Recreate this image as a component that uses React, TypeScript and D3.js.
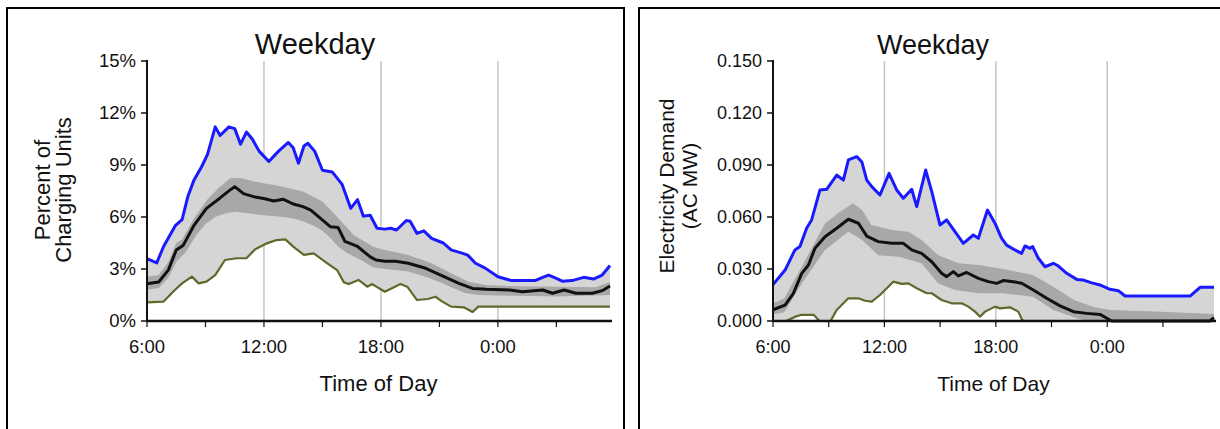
import React from 'react';
import * as d3 from 'd3';

type Pt = [number, number];

// ---------- shared axis definitions ----------
const xMajorHours = [6, 12, 18, 24];
const xMajorLabels = ['6:00', '12:00', '18:00', '0:00'];
const xMinorHours = [6, 9, 12, 15, 18, 21, 24, 27];
const gridHours = [12, 18, 24];

const pctTicks = [0, 3, 6, 9, 12, 15];
const mwTicks = [0, 0.03, 0.06, 0.09, 0.12, 0.15];

// ---------- left chart: percent of charging units ----------
const pctMax: Pt[] = [
  [6.0, 3.6], [6.5, 3.35], [6.85, 4.3], [7.45, 5.5], [7.8, 5.85], [8.1, 7.2], [8.4, 8.1], [8.8, 8.9],
  [9.1, 9.6], [9.5, 11.2], [9.75, 10.7], [10.2, 11.2], [10.5, 11.1], [10.8, 10.2], [11.1, 10.9],
  [11.4, 10.5], [11.75, 9.8], [12.25, 9.2], [12.75, 9.8], [13.25, 10.3], [13.5, 10.0], [13.77, 9.1],
  [14.05, 10.1], [14.25, 10.25], [14.6, 9.8], [15.0, 8.7], [15.5, 8.6], [16.0, 7.9], [16.45, 6.5],
  [16.8, 7.0], [17.1, 6.05], [17.45, 6.1], [17.8, 5.35], [18.2, 5.3], [18.5, 5.35], [18.8, 5.25],
  [19.3, 5.8], [19.5, 5.75], [19.85, 5.05], [20.2, 5.2], [20.6, 4.77], [21.2, 4.5], [21.6, 4.1],
  [22.2, 3.9], [22.45, 3.8], [22.85, 3.33], [23.35, 3.05], [24.0, 2.55], [24.7, 2.33], [25.9, 2.33],
  [26.3, 2.52], [26.6, 2.65], [27.0, 2.46], [27.3, 2.3], [27.8, 2.33], [28.4, 2.52], [28.9, 2.42],
  [29.35, 2.65], [29.75, 3.2],
];
const pctMean: Pt[] = [
  [6.0, 2.15], [6.6, 2.25], [7.1, 2.95], [7.5, 4.1], [7.85, 4.35], [8.4, 5.5], [9.05, 6.5], [9.75, 7.1],
  [10.25, 7.55], [10.5, 7.75], [10.95, 7.35], [11.55, 7.15], [12.05, 7.05], [12.5, 6.92], [13.0, 7.02],
  [13.5, 6.75], [14.0, 6.6], [14.4, 6.4], [14.9, 5.92], [15.4, 5.44], [15.8, 5.4], [16.15, 4.6],
  [16.8, 4.3], [17.45, 3.7], [17.75, 3.52], [18.2, 3.45], [18.75, 3.45], [19.4, 3.33], [20.3, 3.04],
  [21.15, 2.6], [22.0, 2.17], [22.7, 1.88], [23.4, 1.83], [24.6, 1.79], [25.25, 1.69], [26.3, 1.79],
  [26.8, 1.6], [27.4, 1.79], [28.0, 1.6], [28.85, 1.6], [29.35, 1.75], [29.75, 2.02],
];
const pctMin: Pt[] = [
  [6.0, 1.08], [6.85, 1.12], [7.35, 1.7], [7.8, 2.17], [8.3, 2.56], [8.65, 2.17], [9.05, 2.27],
  [9.5, 2.65], [10.0, 3.52], [10.6, 3.62], [11.1, 3.62], [11.55, 4.14], [12.15, 4.48], [12.65, 4.67],
  [13.1, 4.71], [13.5, 4.29], [14.05, 3.81], [14.55, 3.9], [15.25, 3.33], [15.75, 2.94], [16.1, 2.23],
  [16.35, 2.13], [16.85, 2.37], [17.3, 1.98], [17.55, 2.13], [18.2, 1.69], [19.0, 2.13], [19.35, 1.98],
  [19.85, 1.21], [20.4, 1.27], [20.8, 1.4], [21.15, 1.12], [21.6, 0.83], [22.25, 0.79], [22.7, 0.52],
  [23.0, 0.83], [29.75, 0.83],
];
const pctBandHigh: Pt[] = [
  [6.0, 2.55], [6.6, 2.65], [7.1, 3.4], [7.5, 4.5], [7.8, 4.7], [8.4, 5.9], [9.07, 6.98], [9.7, 7.7],
  [10.27, 8.24], [10.8, 8.25], [11.55, 8.04], [12.8, 7.79], [14.03, 7.46], [15.0, 6.89], [15.9, 5.83],
  [16.6, 4.96], [17.6, 4.29], [18.2, 4.1], [19.4, 3.81], [20.6, 3.33], [21.6, 2.75], [22.5, 2.27],
  [23.4, 2.08], [25.0, 2.0], [27.0, 1.98], [29.0, 1.95], [29.75, 2.25],
];
const pctBandLow: Pt[] = [
  [6.0, 1.8], [6.6, 1.9], [7.1, 2.5], [7.5, 3.4], [8.0, 4.0], [8.5, 4.9], [9.0, 5.6], [9.5, 6.0],
  [10.0, 6.2], [10.5, 6.3], [11.0, 6.25], [12.0, 6.1], [13.0, 6.0], [13.5, 5.92], [14.0, 5.75],
  [14.55, 5.5], [15.0, 5.2], [15.4, 4.8], [15.8, 4.3], [16.3, 3.9], [17.0, 3.5], [17.6, 3.1],
  [18.2, 3.0], [19.4, 2.85], [20.3, 2.55], [21.1, 2.2], [21.7, 1.9], [22.3, 1.62], [23.0, 1.5],
  [25.0, 1.45], [27.0, 1.42], [29.75, 1.5],
];

// ---------- right chart: electricity demand (AC MW) ----------
const mwMax: Pt[] = [
  [6.0, 0.021], [6.65, 0.0294], [7.18, 0.041], [7.45, 0.043], [7.81, 0.0535], [8.08, 0.0583],
  [8.53, 0.0756], [8.89, 0.076], [9.43, 0.0842], [9.79, 0.0813], [10.06, 0.0929], [10.51, 0.0948],
  [10.78, 0.0919], [11.05, 0.0813], [11.32, 0.0775], [11.76, 0.0727], [12.25, 0.0852], [12.66, 0.0756],
  [13.02, 0.0708], [13.47, 0.076], [13.74, 0.066], [14.22, 0.0871], [14.55, 0.0746], [14.99, 0.0554],
  [15.35, 0.0583], [15.8, 0.0515], [16.25, 0.0448], [16.79, 0.0496], [17.06, 0.0477], [17.55, 0.064],
  [17.96, 0.0563], [18.3, 0.048], [18.58, 0.0438], [19.03, 0.041], [19.39, 0.039], [19.57, 0.0433],
  [19.84, 0.0419], [19.98, 0.043], [20.29, 0.0362], [20.65, 0.0313], [21.1, 0.0333], [21.37, 0.0317],
  [21.82, 0.0275], [22.36, 0.024], [22.72, 0.0236], [23.17, 0.022], [23.61, 0.0208], [24.15, 0.0183],
  [24.6, 0.0175], [24.96, 0.0144], [28.46, 0.0144], [29.0, 0.0194], [29.75, 0.0194],
];
const mwMean: Pt[] = [
  [6.0, 0.0065], [6.65, 0.0092], [7.1, 0.016], [7.55, 0.0275], [7.91, 0.0323], [8.26, 0.042],
  [8.8, 0.0486], [9.43, 0.0535], [10.06, 0.0587], [10.6, 0.0564], [11.05, 0.049], [11.67, 0.0458],
  [12.39, 0.0448], [13.02, 0.0448], [13.47, 0.041], [14.0, 0.039], [14.55, 0.0342], [15.08, 0.0275],
  [15.35, 0.0256], [15.71, 0.0285], [15.98, 0.026], [16.43, 0.028], [17.06, 0.0246], [17.6, 0.0227],
  [18.05, 0.0217], [18.4, 0.0233], [18.94, 0.0227], [19.39, 0.0218], [20.02, 0.0179], [20.74, 0.0131],
  [21.46, 0.0087], [22.18, 0.0054], [22.9, 0.0044], [23.61, 0.0038], [24.24, 0.0], [29.53, 0.0],
  [29.75, 0.002],
];
const mwMin: Pt[] = [
  [6.0, 0], [6.7, 0], [7.2, 0.0025], [7.5, 0.0035], [8.2, 0.0035], [8.5, 0], [9.1, 0], [9.43, 0.0063],
  [10.06, 0.0131], [10.6, 0.0131], [10.96, 0.0117], [11.32, 0.0112], [11.76, 0.015], [12.21, 0.0198],
  [12.48, 0.0227], [12.93, 0.0214], [13.29, 0.0217], [13.74, 0.0189], [14.28, 0.016], [14.55, 0.016],
  [15.08, 0.0121], [15.62, 0.0102], [16.16, 0.0102], [16.52, 0.0083], [16.88, 0.0054], [17.15, 0.0025],
  [17.42, 0.0054], [17.96, 0.0083], [18.22, 0.0073], [18.76, 0.0079], [19.21, 0.0054], [19.4, 0.001],
  [19.5, 0], [29.75, 0],
];
const mwBandHigh: Pt[] = [
  [6.0, 0.0102], [6.6, 0.013], [7.55, 0.0313], [8.8, 0.0563], [9.5, 0.0621], [10.3, 0.0679],
  [10.8, 0.064], [11.3, 0.0554], [12.4, 0.0525], [13.3, 0.0515], [14.0, 0.0467], [14.9, 0.038],
  [16.0, 0.0333], [17.06, 0.0323], [18.4, 0.0300], [20.0, 0.0265], [21.1, 0.0198], [22.2, 0.0121],
  [23.3, 0.0079], [24.2, 0.0064], [26.9, 0.0054], [29.75, 0.004],
];
const mwBandLow: Pt[] = [
  [6.0, 0.0037], [6.6, 0.005], [7.55, 0.0217], [8.8, 0.041], [10.06, 0.0515], [10.8, 0.0467],
  [11.67, 0.038], [12.8, 0.0371], [14.0, 0.0333], [14.9, 0.0217], [15.8, 0.0179], [17.06, 0.016],
  [18.4, 0.016], [20.0, 0.014], [21.1, 0.0064], [22.2, 0.0021], [22.9, 0], [29.75, 0],
];

type PanelCfg = {
  boxX: number;
  boxRight: number;
  left: number;
  right: number;
  top: number;
  bottom: number;
  yMax: number;
  yTicks: number[];
  fmt: (v: number) => string;
  titleX: number;
  titleSize: number;
  labelSize: number;
  tickSize: number;
  yLabelLines: string[];
  yLabelX: number[];
  yLabelY: number;
  max: Pt[];
  mean: Pt[];
  min: Pt[];
  bandHigh: Pt[];
  bandLow: Pt[];
};

const FONT = 'Arial, "Liberation Sans", Helvetica, sans-serif';

function Panel({ c }: { c: PanelCfg }) {
  const x = d3.scaleLinear().domain([6, 29.75]).range([c.left, c.right]);
  const y = d3.scaleLinear().domain([0, c.yMax]).range([c.bottom, c.top]);
  const line = d3
    .line<Pt>()
    .x((d) => x(d[0]))
    .y((d) => y(d[1]));
  const poly = (hi: Pt[], lo: Pt[]) => line([...hi, ...lo.slice().reverse()]) + 'Z';

  return (
    <g fontFamily={FONT}>
      <rect
        x={c.boxX}
        y={8}
        width={c.boxRight - c.boxX}
        height={440}
        fill="#ffffff"
        stroke="#000"
        strokeWidth={2}
      />
      <text x={c.titleX} y={54} textAnchor="middle" fontSize={c.titleSize} fill="#111">
        Weekday
      </text>
      {gridHours.map((h) => (
        <line key={h} x1={x(h)} x2={x(h)} y1={c.top} y2={c.bottom} stroke="#c4c4c4" strokeWidth={1.5} />
      ))}
      <path d={poly(c.max, c.min)} fill="#d5d5d5" />
      <path d={poly(c.bandHigh, c.bandLow)} fill="#a8a8a8" />
      <path d={line(c.min) || ''} fill="none" stroke="#5a6b2c" strokeWidth={2.2} strokeLinejoin="round" />
      <path d={line(c.max) || ''} fill="none" stroke="#1a1aff" strokeWidth={3} strokeLinejoin="round" />
      <path d={line(c.mean) || ''} fill="none" stroke="#111" strokeWidth={3} strokeLinejoin="round" />

      {/* y axis */}
      <line x1={c.left} x2={c.left} y1={c.top - 1} y2={c.bottom + 1} stroke="#111" strokeWidth={2} />
      {c.yTicks.map((t) => (
        <g key={t}>
          <line x1={c.left - 6} x2={c.left} y1={y(t)} y2={y(t)} stroke="#111" strokeWidth={1.5} />
          <text
            x={c.left - 11}
            y={y(t)}
            dy="0.35em"
            textAnchor="end"
            fontSize={c.tickSize}
            fill="#111"
          >
            {c.fmt(t)}
          </text>
        </g>
      ))}
      {/* x axis */}
      <line x1={c.left} x2={c.right + 2} y1={c.bottom} y2={c.bottom} stroke="#111" strokeWidth={2.6} />
      {xMinorHours.map((h) => (
        <line key={h} x1={x(h)} x2={x(h)} y1={c.bottom} y2={c.bottom + 6} stroke="#111" strokeWidth={1.2} />
      ))}
      {xMajorHours.map((h, i) => (
        <text key={h} x={x(h)} y={353} textAnchor="middle" fontSize={c.tickSize} fill="#111">
          {xMajorLabels[i]}
        </text>
      ))}
      <text x={(c.left + c.right) / 2} y={391} textAnchor="middle" fontSize={c.labelSize} fill="#111">
        Time of Day
      </text>
      {c.yLabelLines.map((s, i) => (
        <text
          key={s}
          transform={`translate(${c.yLabelX[i]},${c.yLabelY}) rotate(-90)`}
          textAnchor="middle"
          dominantBaseline="central"
          fontSize={c.labelSize}
          fill="#111"
        >
          {s}
        </text>
      ))}
    </g>
  );
}

const leftCfg: PanelCfg = {
  boxX: 7,
  boxRight: 624,
  left: 147,
  right: 610,
  top: 61,
  bottom: 321,
  yMax: 15,
  yTicks: pctTicks,
  fmt: (v) => `${v}%`,
  titleX: 315,
  titleSize: 29,
  labelSize: 22,
  tickSize: 18.5,
  yLabelLines: ['Percent of', 'Charging Units'],
  yLabelX: [42, 63],
  yLabelY: 190,
  max: pctMax,
  mean: pctMean,
  min: pctMin,
  bandHigh: pctBandHigh,
  bandLow: pctBandLow,
};

const rightCfg: PanelCfg = {
  boxX: 639,
  boxRight: 1240,
  left: 773,
  right: 1214,
  top: 61,
  bottom: 321,
  yMax: 0.15,
  yTicks: mwTicks,
  fmt: (v) => d3.format('.3f')(v),
  titleX: 933,
  titleSize: 27,
  labelSize: 21,
  tickSize: 18,
  yLabelLines: ['Electricity Demand', '(AC MW)'],
  yLabelX: [666, 689],
  yLabelY: 186,
  max: mwMax,
  mean: mwMean,
  min: mwMin,
  bandHigh: mwBandHigh,
  bandLow: mwBandLow,
};

export default function App() {
  return (
    <svg
      width={1220}
      height={429}
      style={{ position: 'absolute', left: 0, top: 0, background: '#fff' }}
    >
      <rect x={0} y={0} width={1220} height={429} fill="#fff" />
      <Panel c={leftCfg} />
      <Panel c={rightCfg} />
    </svg>
  );
}
